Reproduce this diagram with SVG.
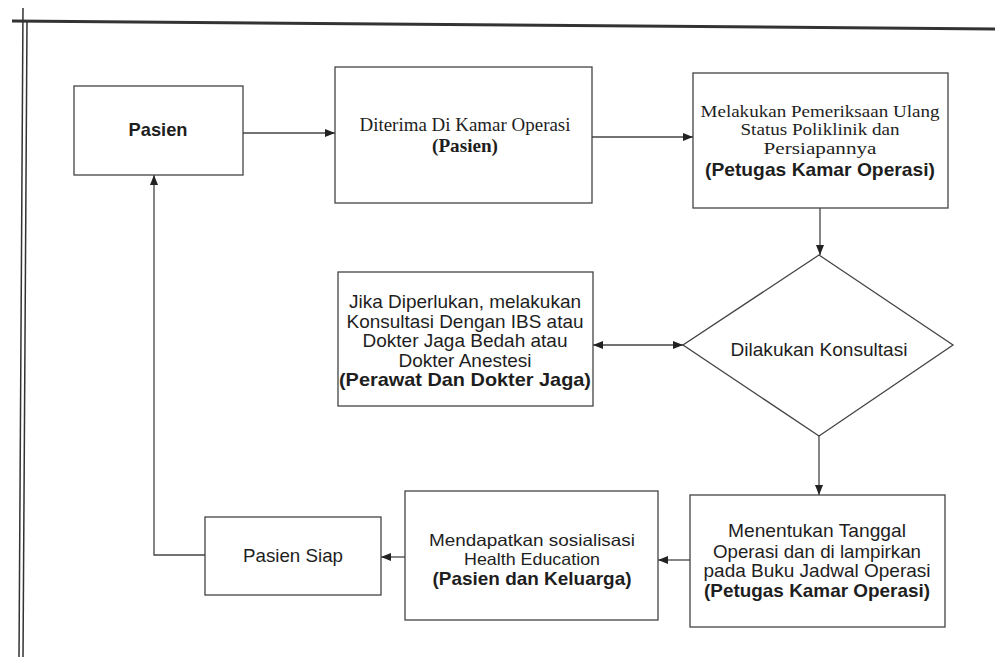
<svg xmlns="http://www.w3.org/2000/svg" width="995" height="657" viewBox="0 0 995 657">
<style>
.box{fill:#fff;stroke:#444;stroke-width:1.3}
.c{fill:none;stroke:#444;stroke-width:1.3}
.sf{font-family:"Liberation Serif","Times New Roman",serif;font-size:19px;fill:#1e1e1e;text-anchor:middle}
.ss{font-family:"Liberation Sans",Arial,sans-serif;font-size:19px;fill:#1e1e1e;text-anchor:middle}
.b{font-weight:bold}
.t{font-size:16.5px}
.frame{stroke:#333;fill:none}
</style>
<defs>
<marker id="ah" viewBox="0 0 10 8" refX="10" refY="4" markerWidth="10" markerHeight="8" markerUnits="userSpaceOnUse" orient="auto-start-reverse">
<path d="M0,0 L10,4 L0,8 z" fill="#222"/>
</marker>
</defs>
<rect width="995" height="657" fill="#fff"/>
<g id="frame">
<line class="frame" x1="12" y1="21" x2="995" y2="29" stroke-width="3"/>
<line class="frame" x1="23" y1="8" x2="19" y2="657" stroke-width="1.5"/>
<line class="frame" x1="27" y1="22" x2="23" y2="657" stroke-width="1.5"/>
</g>
<g id="connectors">
<path class="c" d="M243,133 H335" marker-end="url(#ah)"/>
<path class="c" d="M592,137 H693" marker-end="url(#ah)"/>
<path class="c" d="M820,208 V255" marker-end="url(#ah)"/>
<path class="c" d="M683,345 H593" marker-start="url(#ah)" marker-end="url(#ah)"/>
<path class="c" d="M819,436 V495" marker-end="url(#ah)"/>
<path class="c" d="M690,560 H658" marker-end="url(#ah)"/>
<path class="c" d="M405,557 H381" marker-end="url(#ah)"/>
<path class="c" d="M205,555 H154 V175" marker-end="url(#ah)"/>
</g>
<g id="pasien">
<rect class="box" x="74" y="86" width="169" height="89"/>
<text class="ss b" x="158" y="136" font-size="18.5" textLength="59" lengthAdjust="spacingAndGlyphs">Pasien</text>
</g>
<g id="diterima">
<rect class="box" x="335" y="67" width="257" height="136"/>
<text class="sf" x="465" y="131" textLength="211" lengthAdjust="spacingAndGlyphs">Diterima Di Kamar Operasi</text>
<text class="sf b" x="465" y="152" textLength="66" lengthAdjust="spacingAndGlyphs">(Pasien)</text>
</g>
<g id="melakukan">
<rect class="box" x="693" y="73" width="255" height="135"/>
<text class="sf t" x="820" y="116.5" textLength="239" lengthAdjust="spacingAndGlyphs">Melakukan Pemeriksaan Ulang</text>
<text class="sf t" x="820" y="135" textLength="159" lengthAdjust="spacingAndGlyphs">Status Poliklinik dan</text>
<text class="sf t" x="820" y="153.5" textLength="113" lengthAdjust="spacingAndGlyphs">Persiapannya</text>
<text class="ss b" x="820" y="176" textLength="230" lengthAdjust="spacingAndGlyphs">(Petugas Kamar Operasi)</text>
</g>
<g id="konsultasi">
<polygon class="box" points="819,255 953,345 819,436 683,345"/>
<text class="ss" x="819" y="356" textLength="177" lengthAdjust="spacingAndGlyphs">Dilakukan Konsultasi</text>
</g>
<g id="jika">
<rect class="box" x="338" y="272" width="255" height="134"/>
<text class="ss" x="465" y="308" textLength="232" lengthAdjust="spacingAndGlyphs">Jika Diperlukan, melakukan</text>
<text class="ss" x="465" y="327.5" textLength="237" lengthAdjust="spacingAndGlyphs">Konsultasi Dengan IBS atau</text>
<text class="ss" x="465" y="347" textLength="205" lengthAdjust="spacingAndGlyphs">Dokter Jaga Bedah atau</text>
<text class="ss" x="465" y="366.5" textLength="133" lengthAdjust="spacingAndGlyphs">Dokter Anestesi</text>
<text class="ss b" x="465" y="386" textLength="252" lengthAdjust="spacingAndGlyphs">(Perawat Dan Dokter Jaga)</text>
</g>
<g id="menentukan">
<rect class="box" x="690" y="495" width="255" height="132"/>
<text class="ss" x="817" y="537" textLength="178" lengthAdjust="spacingAndGlyphs">Menentukan Tanggal</text>
<text class="ss" x="817" y="557.5" textLength="208" lengthAdjust="spacingAndGlyphs">Operasi dan di lampirkan</text>
<text class="ss" x="817" y="577" textLength="227" lengthAdjust="spacingAndGlyphs">pada Buku Jadwal Operasi</text>
<text class="ss b" x="817" y="597" textLength="226" lengthAdjust="spacingAndGlyphs">(Petugas Kamar Operasi)</text>
</g>
<g id="mendapatkan">
<rect class="box" x="405" y="491" width="253" height="129"/>
<text class="ss t" x="532" y="546" textLength="206" lengthAdjust="spacingAndGlyphs">Mendapatkan sosialisasi</text>
<text class="ss t" x="532" y="565" textLength="136" lengthAdjust="spacingAndGlyphs">Health Education</text>
<text class="ss b" x="532" y="585" textLength="199" lengthAdjust="spacingAndGlyphs">(Pasien dan Keluarga)</text>
</g>
<g id="pasien-siap">
<rect class="box" x="205" y="517" width="176" height="78"/>
<text class="ss" x="293" y="562" textLength="100" lengthAdjust="spacingAndGlyphs">Pasien Siap</text>
</g>
</svg>
